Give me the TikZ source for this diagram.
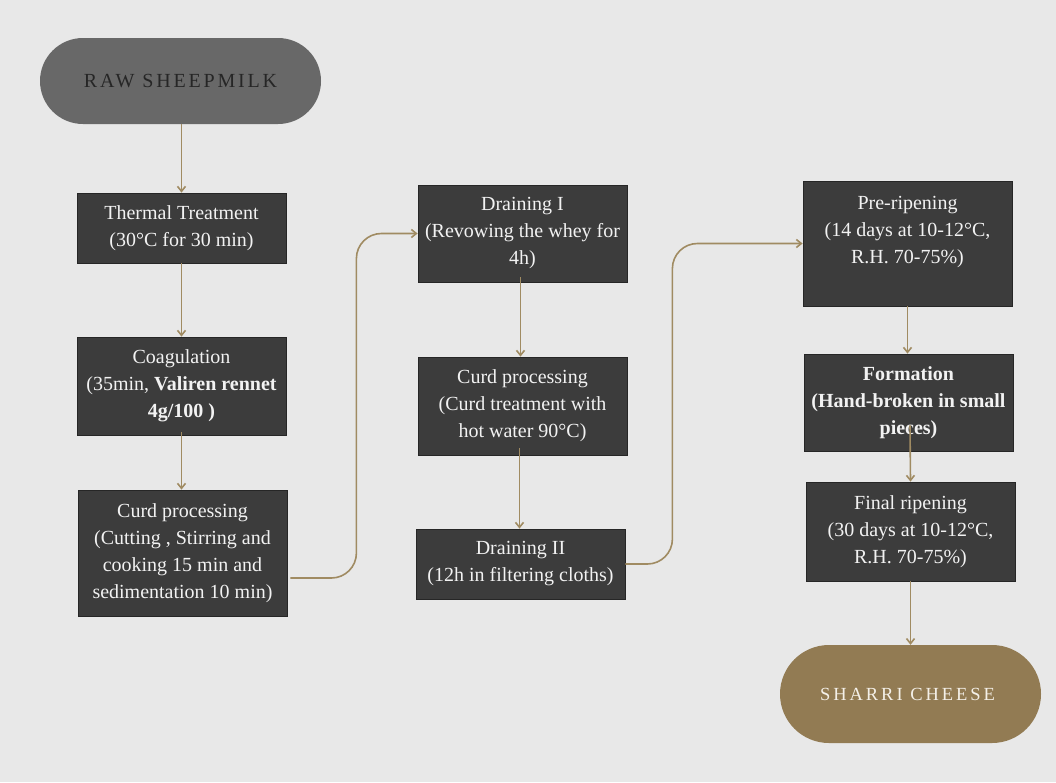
\documentclass[tikz,border=0pt]{standalone}
\usepackage{fontspec}
\setmainfont{Liberation Serif}
\usetikzlibrary{arrows.meta,calc}
\definecolor{bg}{HTML}{E8E8E8}
\definecolor{boxfill}{HTML}{3C3C3C}
\definecolor{boxedge}{HTML}{262626}
\definecolor{boxtext}{HTML}{F2F2F2}
\definecolor{arrowc}{HTML}{A08B62}
\definecolor{startfill}{HTML}{686868}
\definecolor{endfill}{HTML}{927B53}
\definecolor{endtext}{HTML}{F4F0E8}
\begin{document}
\begin{tikzpicture}[x=1pt,y=-1pt,
  box/.style={draw=boxedge, fill=boxfill, text=boxtext, line width=0.8pt,
    minimum width=209pt, align=center, inner sep=0pt,
    font=\fontsize{20}{27}\selectfont},
  startbox/.style={fill=startfill, rounded corners=43pt, minimum width=281pt,
    minimum height=86pt, text=black!85, inner sep=0pt,
    font=\fontsize{20}{22}\selectfont\addfontfeature{LetterSpace=14}},
  endbox/.style={fill=endfill, rounded corners=49pt, minimum width=261pt,
    minimum height=98pt, text=endtext, inner sep=0pt,
    font=\fontsize{18.5}{20}\selectfont\addfontfeature{LetterSpace=16}},
  arr/.style={draw=arrowc, line width=1.6pt, rounded corners=25pt,
    -{Straight Barb[length=5pt,width=8pt]}}]
\useasboundingbox (0,0) rectangle (1056,782);
\fill[bg] (0,0) rectangle (1056,782);

\node[startbox] (raw) at (180.5,81) {RAW SHEEPMILK};
\node[box, minimum height=70pt] (thermal) at (181.5,228) {Thermal Treatment\\(30°C for 30 min)};
\node[box, minimum height=98pt] (coag) at (181.5,386) {Coagulation\\(35min, \textbf{Valiren rennet}\\\textbf{4g/100 )}};
\node[box, minimum height=126pt] (curdA) at (182.5,553) {Curd processing\\(Cutting , Stirring and\\cooking 15 min and\\sedimentation 10 min)};

\node[box, minimum height=97pt] (drainA) at (522.5,233.5) {Draining I\\(Revowing the whey for\\4h)};
\node[box, minimum height=98pt] (curdB) at (522.5,406) {Curd processing\\(Curd treatment with\\hot water 90°C)};
\node[box, minimum height=70pt] (drainB) at (520.5,564) {Draining II\\(12h in filtering cloths)};

\node[box, minimum height=125pt] (pre) at (907.5,243.5) {Pre-ripening\\(14 days at 10-12°C,\\R.H. 70-75\%)\\\mbox{}};
\node[box, minimum height=97pt] (form) at (908.5,402.5) {\textbf{Formation}\\\textbf{(Hand-broken in small}\\\textbf{pieces)}};
\node[box, minimum height=99pt] (final) at (910.5,531.5) {Final ripening\\(30 days at 10-12°C,\\R.H. 70-75\%)};

\node[endbox] (cheese) at (910.5,694) {\hspace*{-6pt}SHARRI CHEESE};

\draw[arr] (raw.south -| thermal.north) -- (thermal.north);
\draw[arr] (thermal.south) -- (coag.north);
\draw[arr] ([yshift=3pt]coag.south) -- (coag.south |- curdA.north);
\draw[arr] ([shift={(3pt,-25pt)}]curdA.east) -- ++(66,0) |- (drainA.west);
\draw[arr] ([xshift=-2pt,yshift=5pt]drainA.south) -- ([xshift=-2pt]curdB.north);
\draw[arr] ([xshift=-3pt,yshift=7pt]curdB.south) -- ([xshift=-1pt]drainB.north);
\draw[arr] (drainB.east) -- ++(47,0) |- (pre.west);
\draw[arr] (pre.south) -- (pre.south |- form.north);
\draw[arr] ([xshift=1.5pt,yshift=26pt]form.south) -- (final.north);
\draw[arr] (final.south) -- (final.south |- cheese.north);
\end{tikzpicture}
\end{document}
